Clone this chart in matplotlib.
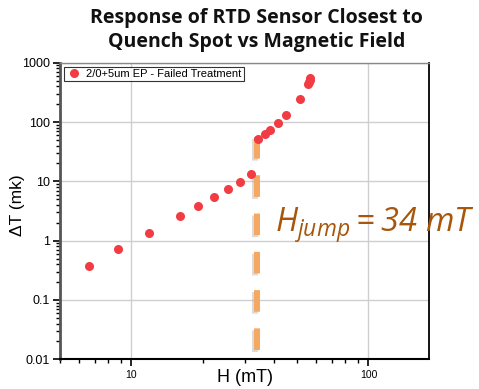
import matplotlib
matplotlib.use("Agg")
import matplotlib.pyplot as plt
import matplotlib.patheffects as pe
from matplotlib.ticker import LogLocator, FixedLocator, NullFormatter

plt.rcParams['font.family'] = ['Liberation Sans', 'DejaVu Sans']
plt.rcParams['mathtext.fontset'] = 'custom'
plt.rcParams['mathtext.rm'] = 'Open Sans:italic'
plt.rcParams['mathtext.it'] = 'Open Sans:italic'

# Magnetic field (mT) and temperature rise (mK) of the RTD sensor
field_mT = [6.6, 8.8, 11.9, 16.0, 19.1, 22.2, 25.6, 28.6, 31.8,
            34.2, 36.6, 38.6, 41.6, 45.1, 51.3, 55.5, 56.0, 56.4, 56.8]
delta_T_mK = [0.38, 0.71, 1.34, 2.6, 3.8, 5.4, 7.4, 9.6, 13.1,
              52, 64, 72, 96, 131, 240, 430, 470, 510, 545]
series_label = "2/0+5um EP - Failed Treatment"
h_jump = 34
y_ticks = [0.01, 0.1, 1, 10, 100, 1000]
y_tick_labels = ["0.01", "0.1", "1", "10", "100", "1000"]
x_ticks = [10, 100]
x_tick_labels = ["10", "100"]

fig = plt.figure(figsize=(4.79, 3.89), dpi=100)
ax = fig.add_axes([0.1253, 0.0763, 0.7703, 0.7625])

ax.set_xscale('log')
ax.set_yscale('log')
ax.set_xlim(5.0, 180)
ax.set_ylim(0.01, 1000)

ax.grid(True, which='major', color='#cfcfcf', linewidth=1.0)
ax.set_axisbelow(True)

ax.plot(field_mT, delta_T_mK, linestyle='none', marker='o', markersize=6.5,
        color='#f03c42', markeredgewidth=0, label=series_label, zorder=3)

# Dashed marker of the jump field, with a soft shadow
ax.axvline(h_jump, ymin=0.032, ymax=0.7505, color='#f5a862', linewidth=4.3,
           dashes=(3.62, 2.79), zorder=2,
           path_effects=[pe.SimpleLineShadow(offset=(-1.5, -1.5), shadow_color='#999999', alpha=0.35),
                         pe.Normal()])

ax.text(275, 389 - 232, r"$H_{jump} = 34\ mT$", transform=None, fontsize=23.5,
        color='#a8560a', ha='left', va='baseline')

ax.yaxis.set_major_locator(FixedLocator(y_ticks))
ax.set_yticklabels(y_tick_labels)
ax.xaxis.set_major_locator(FixedLocator(x_ticks))
ax.set_xticklabels(x_tick_labels)
ax.yaxis.set_minor_locator(LogLocator(base=10, subs=range(2, 10), numticks=20))
ax.xaxis.set_minor_locator(LogLocator(base=10, subs=range(2, 10), numticks=20))
ax.yaxis.set_minor_formatter(NullFormatter())
ax.xaxis.set_minor_formatter(NullFormatter())

ax.tick_params(axis='y', which='major', direction='out', length=5, width=1.2, labelsize=9, pad=2)
ax.tick_params(axis='y', which='minor', direction='out', length=3, width=1.0)
ax.tick_params(axis='x', which='major', direction='out', length=5, width=1.2, labelsize=7.5, pad=3)
ax.tick_params(axis='x', which='minor', direction='out', length=3, width=1.0)

ax.spines['left'].set_linewidth(2.0)
ax.spines['left'].set_color('#555555')
ax.spines['bottom'].set_linewidth(1.5)
ax.spines['top'].set_linewidth(1.0)
ax.spines['top'].set_color('#888888')
ax.spines['right'].set_linewidth(1.3)

ax.set_xlabel("H (mT)", fontsize=13)
ax.xaxis.set_label_coords(0.5, -0.033)
ax.set_ylabel("ΔT (mk)", fontsize=12.5, va='center')
ax.yaxis.set_label_coords(-0.1165, 0.52)

leg = ax.legend(loc='upper left', fontsize=8, frameon=True, fancybox=False,
                edgecolor='black', borderpad=0.2, handletextpad=0.3,
                borderaxespad=0.35, handlelength=1.5)
leg.get_frame().set_linewidth(0.8)

fig.text(0.5355, 0.922, "Response of RTD Sensor Closest to\nQuench Spot vs Magnetic Field",
         ha='center', va='center', fontsize=14, fontweight='bold',
         family=['Open Sans', 'DejaVu Sans'], color='#111111', linespacing=1.28)

fig.savefig("out.png", dpi=100)
